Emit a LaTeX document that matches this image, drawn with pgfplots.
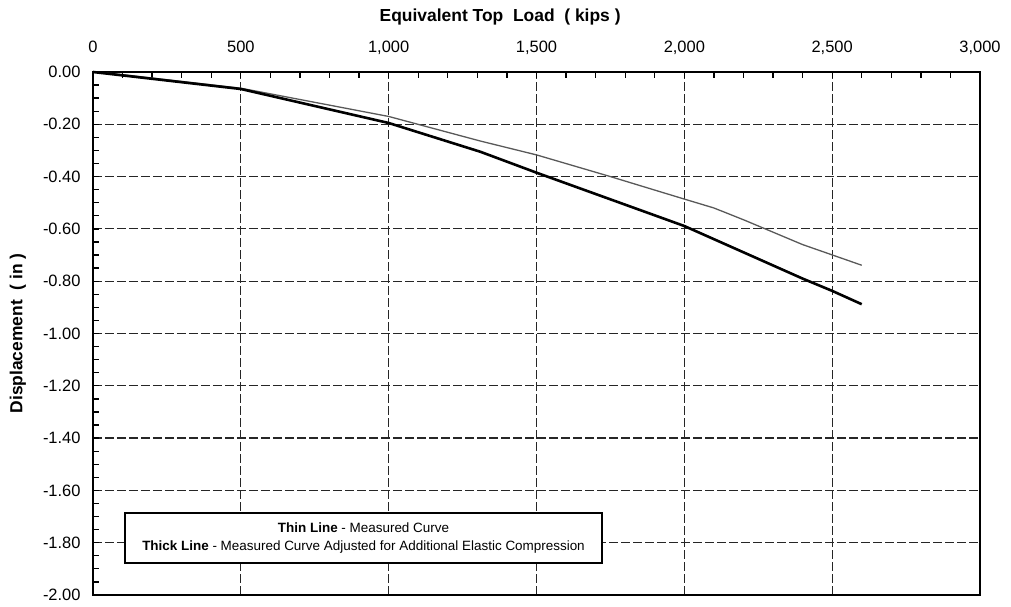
\documentclass[border=0pt]{standalone}
\usepackage{pgfplots}
\pgfplotsset{compat=1.18}
\usepackage{fontspec}
\setmainfont{Liberation Sans}
\begin{document}
\begin{tikzpicture}
\begin{axis}[
  scale only axis, width=887bp, height=523bp,
  xmin=0, xmax=3000, ymin=-2, ymax=0,
  xtick={0,500,1000,1500,2000,2500,3000},
  ytick={-2,-1.8,-1.6,-1.4,-1.2,-1,-0.8,-0.6,-0.4,-0.2,0},
  minor x tick num=4, minor y tick num=3,
  xtick pos=top, xticklabel pos=top, ytick pos=left,
  tick align=inside,
  major tick length=6bp, minor tick length=6bp,
  tick style={black, line width=1.3bp},
  axis line style={black, line width=2bp},
  grid=major,
  major grid style={black!85, dash pattern=on 9bp off 3bp, line width=1.2bp},
  /pgf/number format/assume math mode=true,
  ticklabel style={font=\fontsize{16.5}{19}\selectfont},
  xticklabel style={/pgf/number format/1000 sep={,}, anchor=base, yshift=19bp},
  yticklabel style={/pgf/number format/.cd, fixed, fixed zerofill, precision=2,
    /tikz/.cd, anchor=east, xshift=-9bp},
  xlabel={Equivalent Top\ \ Load\ \ ( kips )},
  xlabel style={font=\bfseries\fontsize{17.5}{20}\selectfont,
    at={(axis description cs:0.459,1)}, anchor=base, yshift=50bp},
  ylabel={Displacement\ \ ( in )},
  ylabel style={font=\bfseries\fontsize{17.5}{20}\selectfont,
    at={(axis description cs:-0.0846,0.5)}, anchor=center},
  clip=false,
]
% measured curve (thin)
\addplot[black!65, line width=1.3bp] coordinates {
  (0,0) (100,-0.010) (500,-0.062) (1000,-0.170) (1310,-0.264)
  (1500,-0.317) (1750,-0.400) (2000,-0.486) (2100,-0.520)
  (2200,-0.565) (2400,-0.660) (2600,-0.739)
};
% measured curve adjusted for additional elastic compression (thick)
\addplot[black, line width=2.6bp] coordinates {
  (0,0) (500,-0.065) (1000,-0.195) (1310,-0.305) (1500,-0.385)
  (2000,-0.589) (2400,-0.790) (2500,-0.837) (2600,-0.888)
};
\node[draw=black, line width=1.3bp, fill=white, minimum width=477bp,
  minimum height=50bp, align=center, inner sep=0pt,
  font=\fontsize{13.5}{18}\selectfont] at (axis cs:915,-1.782)
  {\textbf{Thin Line} - Measured Curve\\
   \textbf{Thick Line} - Measured Curve Adjusted for Additional Elastic Compression};
\end{axis}
\path (current axis.south west) ++(-93bp,-12bp) rectangle ++(1011bp,607bp);
\end{tikzpicture}
\end{document}
